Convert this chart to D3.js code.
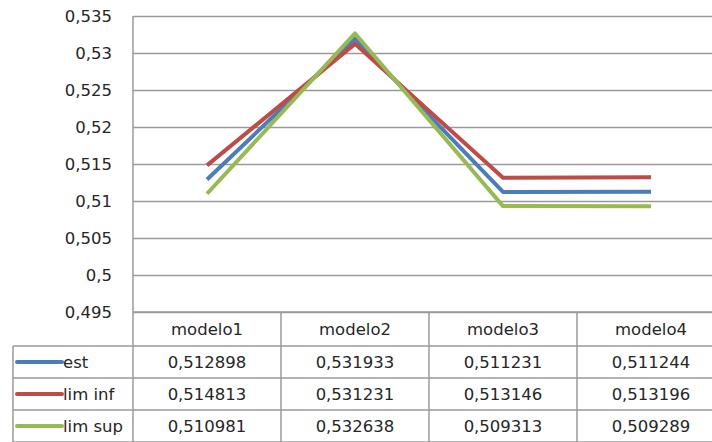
<!DOCTYPE html>
<html><head><meta charset="utf-8">
<script src="https://cdn.jsdelivr.net/npm/d3@7"></script>
<style>
html,body{margin:0;padding:0;background:#fff;}
svg{display:block;}
text{font-family:"DejaVu Sans",sans-serif;fill:#262626;}
</style></head>
<body><svg id="c" width="712" height="442"></svg>
<script>
const categories = ["modelo1","modelo2","modelo3","modelo4"];
const seriesNames = ["est","lim inf","lim sup"];
const est    = [0.512898, 0.531933, 0.511231, 0.511244];
const limInf = [0.514813, 0.531231, 0.513146, 0.513196];
const limSup = [0.510981, 0.532638, 0.509313, 0.509289];
const tickValues = [0.495,0.5,0.505,0.51,0.515,0.52,0.525,0.53,0.535];
const colors = ["#4a7ebb","#be4b48","#98b954"];
const seriesValues = [est, limInf, limSup];

const locale = d3.formatLocale({decimal:",", thousands:".", grouping:[3], currency:["",""]});
const fmtTick = locale.format("~g");
const fmtVal = locale.format(".6f");

const svg = d3.select("#c");
const pLeft = 133, pRight = 725, pTop = 16, pBottom = 312;
const tableLeft = 13;
const rowTops = [312, 346, 378, 410, 442];

const x = d3.scaleBand().domain(categories).range([pLeft, pRight]);
const y = d3.scaleLinear().domain([0.495, 0.535]).range([pBottom, pTop]);

const gridColor = "#9a9a9a";

// gridlines
const grid = svg.append("g").attr("transform", `translate(${pLeft},0)`)
  .call(d3.axisRight(y).tickValues(tickValues).tickSize(pRight-pLeft).tickFormat(""));
grid.select(".domain").remove();
grid.selectAll("line").attr("stroke", gridColor).attr("stroke-width", 1.5);

// tick labels
const yAxis = svg.append("g").attr("transform", `translate(${pLeft},0)`)
  .call(d3.axisLeft(y).tickValues(tickValues).tickSize(0).tickPadding(21).tickFormat(fmtTick));
yAxis.select(".domain").remove();
yAxis.selectAll("text").style("font-size","16.5px").attr("fill","#262626")
  .style("font-family","DejaVu Sans, sans-serif").attr("dy","0.32em");

// left axis line
svg.append("line").attr("x1",pLeft).attr("x2",pLeft).attr("y1",pTop).attr("y2",442)
  .attr("stroke",gridColor).attr("stroke-width",1.5);

// table grid lines
rowTops.forEach((yy,i)=>{
  svg.append("line").attr("x1", i===0? pLeft : tableLeft).attr("x2", pRight)
    .attr("y1",yy).attr("y2",yy).attr("stroke",gridColor).attr("stroke-width",1.5);
});
svg.append("line").attr("x1",tableLeft).attr("x2",tableLeft).attr("y1",rowTops[1]).attr("y2",442)
  .attr("stroke",gridColor).attr("stroke-width",1.5);
categories.forEach(c=>{
  const xr = x(c)+x.bandwidth();
  svg.append("line").attr("x1",xr).attr("x2",xr).attr("y1",rowTops[0]).attr("y2",442)
    .attr("stroke",gridColor).attr("stroke-width",1.5);
});

// header labels
svg.append("g").selectAll("text").data(categories).join("text")
  .attr("x", d=>x(d)+x.bandwidth()/2).attr("y",(rowTops[0]+rowTops[1])/2)
  .attr("dy","0.35em").attr("text-anchor","middle").style("font-size","16.5px").text(d=>d);

// lines
const line = d3.line().x((d,i)=>x(categories[i])+x.bandwidth()/2).y(d=>y(d));
seriesValues.forEach((vals,si)=>{
  svg.append("path").datum(vals).attr("d",line).attr("fill","none")
    .attr("stroke",colors[si]).attr("stroke-width",4).attr("stroke-linejoin","round");
});

// table rows
seriesValues.forEach((vals,si)=>{
  const cy = (rowTops[si+1]+rowTops[si+2])/2;
  svg.append("line").attr("x1",17).attr("x2",62).attr("y1",cy).attr("y2",cy)
    .attr("stroke",colors[si]).attr("stroke-width",4).attr("stroke-linecap","round");
  svg.append("text").attr("x",63).attr("y",cy).attr("dy","0.35em").style("font-size","16.5px").text(seriesNames[si]);
  vals.forEach((v,i)=>{
    svg.append("text").attr("x",x(categories[i])+x.bandwidth()/2).attr("y",cy).attr("dy","0.35em")
      .attr("text-anchor","middle").style("font-size","16.5px").text(fmtVal(v));
  });
});
</script></body></html>
